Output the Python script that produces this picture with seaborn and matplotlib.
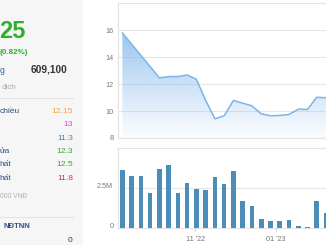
import numpy as np
import pandas as pd
import matplotlib
matplotlib.use("Agg")
import matplotlib.pyplot as plt
import matplotlib.dates as mdates
import matplotlib.transforms as mtransforms
from matplotlib.patches import Rectangle
import seaborn as sns

# ---- data ----
dates = ["2022-09-07", "2022-09-14", "2022-09-21", "2022-09-28", "2022-10-05",
         "2022-10-12", "2022-10-19", "2022-10-26", "2022-11-02", "2022-11-09",
         "2022-11-16", "2022-11-23", "2022-11-30", "2022-12-07", "2022-12-14",
         "2022-12-21", "2022-12-28", "2023-01-04", "2023-01-11", "2023-01-18",
         "2023-01-25", "2023-02-01", "2023-02-08"]
price = [15.78, 14.95, 14.12, 13.29, 12.45, 12.55, 12.55, 12.67, 12.35, 10.78,
         9.42, 9.65, 10.78, 10.58, 10.38, 9.79, 9.65, 9.67, 9.74, 10.14,
         10.11, 11.02, 10.98]
volume_m = [3.65, 3.27, 3.27, 2.23, 3.73, 3.98, 2.19, 2.85, 2.48, 2.38,
            3.21, 2.75, 3.56, 1.73, 1.38, 0.60, 0.46, 0.46, 0.52, 0.15,
            0.10, 1.72, 0.93]
price_ticks = [8, 10, 12, 14, 16]
vol_ticks = [0, 2.5]
vol_tick_labels = ["0", "2.5M"]

side_labels = ["chiều", "", "", "ửa", "hất", "hất"]
side_values = ["12.15", "13", "11.3", "12.3", "12.5", "11.8"]
side_colors = ["#f4a53c", "#e23fe0", "#3a86c0", "#33a532", "#33a532", "#c8383a"]

# ---- figure ----
sns.set_theme(style="white")
plt.rcParams["font.family"] = ["Liberation Sans", "DejaVu Sans"]

W, H = 326, 245
fig = plt.figure(figsize=(W / 100, H / 100), dpi=100)
fig.patch.set_facecolor("white")

def fx(px):
    return px / W

def fy(py):
    return 1 - py / H

# left info panel
fig.patches.append(Rectangle((0, 0), fx(83), 1, transform=fig.transFigure,
                             facecolor="#f6f6f6", edgecolor="none", zorder=0))

df = pd.DataFrame({"date": pd.to_datetime(dates), "price": price, "vol": volume_m})
df["x"] = mdates.date2num(df["date"])

x0 = df["x"].iloc[0] - 3.3
x1 = df["x"].iloc[-1]

# ---- price axes ----
ax = fig.add_axes([fx(118), fy(138), fx(326) - fx(118), fy(3) - fy(138)])
ax.set_facecolor("white")
ax.set_xlim(x0, x1)
ax.set_ylim(8, 18)

poly = ax.fill_between(df["x"], df["price"], 8, facecolor="none", edgecolor="none")
grad = np.linspace(0, 1, 256).reshape(-1, 1)
rgba = np.zeros((256, 1, 4))
rgba[..., 0] = 124 / 255
rgba[..., 1] = 181 / 255
rgba[..., 2] = 236 / 255
rgba[..., 3] = 0.04 + 0.96 * grad ** 1.1
im = ax.imshow(rgba, extent=[x0, x1, 8, 18], origin="lower", aspect="auto", zorder=1)
im.set_clip_path(poly.get_paths()[0], transform=ax.transData)
ax.set_xlim(x0, x1)
ax.set_ylim(8, 18)

sns.lineplot(data=df, x="x", y="price", ax=ax, color="#7cb5ec", linewidth=1.1, zorder=3)

ax.set_yticks(price_ticks)
ax.set_yticklabels([str(t) for t in price_ticks])
ax.yaxis.grid(True, color="#e6e6e6", linewidth=0.8)
ax.xaxis.grid(False)
ax.set_xticks([])
ax.set_xlabel("")
ax.set_ylabel("")
for s in ["top", "left", "bottom"]:
    ax.spines[s].set_color("#e3e3e3")
    ax.spines[s].set_linewidth(0.8)
ax.spines["right"].set_visible(False)
ax.tick_params(axis="y", length=0, pad=3.4, labelsize=5.2, labelcolor="#777777")

# ---- volume axes ----
axv = fig.add_axes([fx(118), fy(228.3), fx(326) - fx(118), fy(148.3) - fy(228.3)])
axv.set_facecolor("white")
sns.barplot(data=df, x="x", y="vol", ax=axv, native_scale=True, color="#4a8db6",
            saturation=1, width=0.5, edgecolor="none", zorder=3)
axv.set_xlim(x0, x1)
axv.set_ylim(0, 5)
axv.set_yticks(vol_ticks)
axv.set_yticklabels(vol_tick_labels)
axv.yaxis.grid(True, color="#e6e6e6", linewidth=0.8)
axv.xaxis.grid(False)
axv.set_xlabel("")
axv.set_ylabel("")
axv.xaxis.set_major_locator(mdates.MonthLocator(bymonth=range(1, 13, 2)))
axv.xaxis.set_major_formatter(mdates.DateFormatter("%m '%y"))
for s in ["top", "left", "bottom"]:
    axv.spines[s].set_color("#e3e3e3")
    axv.spines[s].set_linewidth(0.8)
axv.spines["right"].set_visible(False)
axv.tick_params(axis="y", length=0, pad=3.4, labelsize=5.2, labelcolor="#777777")
axv.tick_params(axis="x", length=2.5, width=0.7, color="#cccccc", pad=3,
                labelsize=5.2, labelcolor="#777777", bottom=True)
off = mtransforms.ScaledTranslation(0, 3 / 100, fig.dpi_scale_trans)
for lbl in axv.get_yticklabels():
    lbl.set_transform(lbl.get_transform() + off)

# ---- left panel text ----
green = "#2db12d"
navy = "#33507e"
fig.text(fx(-0.5), fy(31), "25", color=green, fontsize=17, fontweight="bold",
         ha="left", va="center")
fig.text(fx(-0.5), fy(52.5), "(0.82%)", color=green, fontsize=5.8, fontweight="bold",
         ha="left", va="center")
fig.text(fx(-0.5), fy(70.5), "g", color="#3e64a0", fontsize=6.3, ha="left", va="center")
fig.text(fx(67), fy(69.5), "609,100", color="#333333", fontsize=7.3, fontweight="bold",
         ha="right", va="center")
fig.text(fx(1.5), fy(87), "dịch", color="#a8a8a8", fontsize=5.8, ha="left", va="center")
fig.lines.append(plt.Line2D([0, fx(73)], [fy(98.5), fy(98.5)], transform=fig.transFigure,
                            color="#e4e4e4", linewidth=0.8))

rows_y = [111.5, 124.5, 138, 151.5, 164.8, 179]
for lab, val, col, yy in zip(side_labels, side_values, side_colors, rows_y):
    if lab:
        fig.text(fx(-0.5), fy(yy), lab, color=navy, fontsize=6.0, ha="left", va="center")
    fig.text(fx(73), fy(yy), val, color=col, fontsize=6.1, ha="right", va="center")

fig.text(fx(0.5), fy(196.5), "000 VNĐ", color="#b0b0b0", fontsize=4.9, ha="left", va="center")
fig.lines.append(plt.Line2D([0, fx(73)], [fy(216.5), fy(216.5)], transform=fig.transFigure,
                            color="#e4e4e4", linewidth=0.8))
fig.text(fx(3), fy(226.7), "NĐTNN", color=navy, fontsize=5.6, fontweight="bold",
         ha="left", va="center")
fig.text(fx(72.5), fy(240), "0", color="#333333", fontsize=6.0, ha="right", va="center")

fig.savefig("out.png", dpi=100, facecolor=fig.get_facecolor())
